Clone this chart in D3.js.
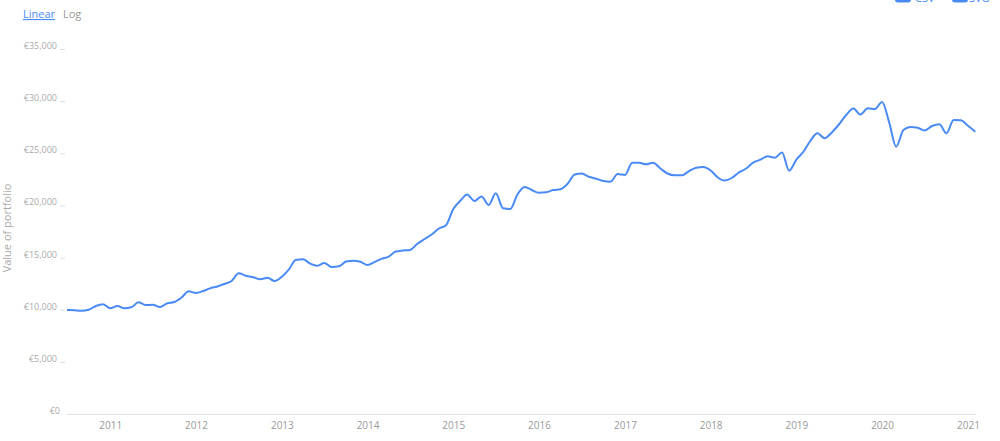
<!DOCTYPE html>
<html>
<head>
<meta charset="utf-8">
<script src="https://cdn.jsdelivr.net/npm/d3@7"></script>
<style>
  html, body { margin: 0; padding: 0; background: #fff; }
  svg { display: block; font-family: "Open Sans", sans-serif; }
</style>
</head>
<body>
<svg id="chart" width="1000" height="441"></svg>
<script>
// Monthly portfolio value, July 2010 – February 2021
const startMonth = "2010-07";
const values = [
  9970, 9940, 9900, 9990, 10360, 10520, 10140, 10360, 10140, 10230, 10710, 10450,
  10470, 10260, 10620, 10740, 11170, 11770, 11600, 11790, 12050, 12230, 12470, 12750,
  13490, 13260, 13110, 12920, 13070, 12750, 13170, 13900, 14770, 14830, 14430, 14220,
  14480, 14100, 14160, 14620, 14700, 14600, 14290, 14590, 14880, 15100, 15580, 15680,
  15730, 16320, 16780, 17210, 17790, 18100, 19660, 20470, 21050, 20420, 20860, 20040,
  21160, 19720, 19660, 21050, 21770, 21480, 21220, 21260, 21480, 21550, 22050, 22970,
  23060, 22750, 22560, 22340, 22280, 23010, 22920, 24100, 24100, 23940, 24100, 23540,
  23060, 22890, 22890, 23300, 23610, 23680, 23350, 22680, 22390, 22630, 23160, 23540,
  24100, 24390, 24710, 24570, 25080, 23330, 24400, 25170, 26180, 26920, 26450, 27000,
  27760, 28670, 29290, 28720, 29310, 29250, 29920, 27900, 25630, 27230, 27520, 27440,
  27190, 27620, 27790, 26920, 28190, 28160, 27640, 27070
];
const yTicks = [0, 5000, 10000, 15000, 20000, 25000, 30000, 35000];
const xTickYears = [2011, 2012, 2013, 2014, 2015, 2016, 2017, 2018, 2019, 2020, 2021];
const scaleButtons = ["Linear", "Log"];
const downloadButtons = ["CSV", "SVG"];
const yTitle = "Value of portfolio";

const parseMonth = d3.timeParse("%Y-%m");
const start = parseMonth(startMonth);
const data = values.map((v, i) => ({ date: d3.timeMonth.offset(start, i), value: v }));

const svg = d3.select("#chart");
const plotLeft = 67, plotRight = 976, plotTop = 49, plotBottom = 414;

const x = d3.scaleTime()
  .domain([start, d3.timeMonth.offset(start, values.length - 1)])
  .range([plotLeft, 975.3]);
const y = d3.scaleLinear().domain([0, 35000]).range([plotBottom, plotTop]);

// Top-left scale toggles
const toggles = svg.append("g");
toggles.append("text").attr("x", 23).attr("y", 18).text(scaleButtons[0])
  .attr("font-size", 11).attr("fill", "#4a8af4").attr("text-decoration", "underline");
toggles.append("text").attr("x", 63).attr("y", 18).text(scaleButtons[1])
  .attr("font-size", 11).attr("fill", "#999");

// Top-right download buttons (mostly cropped at the top edge)
const dl = svg.append("g");
[[895, 915], [952, 969]].forEach((p, i) => {
  dl.append("rect").attr("x", p[0]).attr("y", -10).attr("width", 16).attr("height", 12.5)
    .attr("rx", 3).attr("fill", "#4a8af4");
  dl.append("text").attr("x", p[1]).attr("y", 2).text(downloadButtons[i])
    .attr("font-size", 11).attr("fill", "#4a8af4");
});

// Y axis
const yAxis = svg.append("g").attr("transform", `translate(65,0)`)
  .call(d3.axisLeft(y).tickValues(yTicks).tickSize(5).tickPadding(3)
    .tickFormat(d => "€" + d3.format(",")(d)));
yAxis.select(".domain").remove();
yAxis.selectAll(".tick line").attr("stroke", "#ddd");
yAxis.selectAll(".tick text").attr("fill", "#aaa").attr("font-size", 9)
  .attr("font-family", "Open Sans, sans-serif").attr("dy", "-0.05em");
const zeroTick = yAxis.selectAll(".tick").filter(d => d === 0);
zeroTick.select("line").remove();
zeroTick.select("text").attr("dx", 3);

svg.append("text")
  .attr("transform", "translate(11,228) rotate(-90)")
  .attr("text-anchor", "middle")
  .attr("font-size", 11).attr("fill", "#aaa")
  .text(yTitle);

// X axis
const xAxis = svg.append("g").attr("transform", `translate(0,${plotBottom})`)
  .call(d3.axisBottom(x).tickValues(xTickYears.map(yy => new Date(yy, 0, 1)))
    .tickSize(0).tickPadding(8).tickFormat(d3.timeFormat("%Y")));
xAxis.select(".domain").attr("stroke", "#e3e3e3").attr("d", `M${plotLeft},0.5H${plotRight}`);
xAxis.selectAll(".tick text").attr("fill", "#999").attr("font-size", 10)
  .attr("font-family", "Open Sans, sans-serif");

// Line
const line = d3.line()
  .x(d => x(d.date))
  .y(d => y(d.value))
  .curve(d3.curveMonotoneX);
svg.append("path").datum(data)
  .attr("d", line)
  .attr("fill", "none")
  .attr("stroke", "#4a8af4")
  .attr("stroke-width", 2)
  .attr("stroke-linejoin", "round");
</script>
</body>
</html>
